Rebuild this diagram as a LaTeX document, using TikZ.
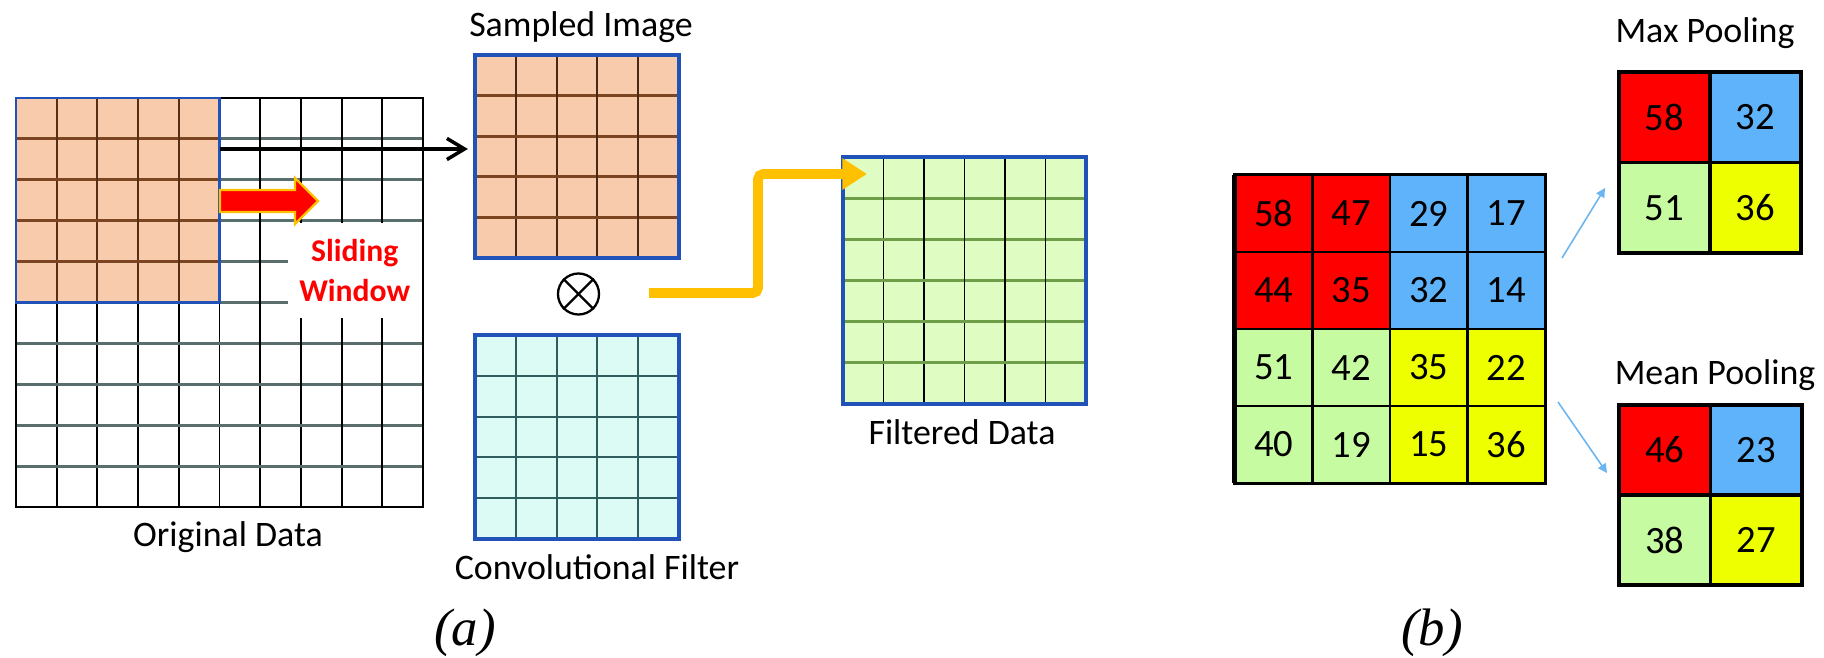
\documentclass[tikz,border=0pt]{standalone}
\usepackage{fontspec}
\setmainfont{Carlito}
\newfontfamily\capfont{Liberation Serif}
\usetikzlibrary{arrows.meta,calc}

\definecolor{winfill}{HTML}{F8CBAD}
\definecolor{winline}{HTML}{7A4520}
\definecolor{edgeblue}{HTML}{2152B8}
\definecolor{filtfill}{HTML}{DDFBF5}
\definecolor{filtline}{HTML}{2F5C5C}
\definecolor{outfill}{HTML}{DFFCC2}
\definecolor{outgreen}{HTML}{6E9E48}
\definecolor{gridgray}{HTML}{5A6E6E}
\definecolor{arrowgold}{HTML}{FFC000}
\definecolor{poolred}{HTML}{FF0000}
\definecolor{poolblue}{HTML}{5FB3FA}
\definecolor{poolgreen}{HTML}{C6FBA2}
\definecolor{poolyellow}{HTML}{EEFF00}
\definecolor{linkblue}{HTML}{6BB5F0}

\begin{document}
\begin{tikzpicture}[x=0.01cm,y=-0.01cm,
  lbl/.style={font=\fontsize{10.2}{12}\selectfont, anchor=base, inner sep=0pt},
  num/.style={font=\fontsize{11}{13}\selectfont, inner sep=0pt},
  sub/.style={font=\fontsize{15}{18}\selectfont\capfont\itshape, anchor=base, inner sep=0pt},
  box/.style={draw=none, inner sep=0pt, outer sep=0pt},
  frame/.style={edgeblue, line width=1pt},
  link/.style={linkblue, line width=0.45pt, -{Triangle[length=2.6pt,width=2.6pt]}},
]
\useasboundingbox (0,0) rectangle (1824,658);

% ---------- (a) original data with sliding window ----------
\node[box, minimum width=4.07cm, minimum height=4.09cm] (orig) at (219.5,302.5) {};
\node[box, fill=winfill, minimum width=2.035cm, minimum height=2.045cm] (win) at (117.75,200.25) {};
\foreach \k in {1,...,9} {
  \draw[gridgray, line width=0.8pt] (16,{98+40.9*\k}) -- (423,{98+40.9*\k});
  \draw[black, line width=0.55pt] ({16+40.7*\k},98) -- ({16+40.7*\k},507);
}
\foreach \k in {1,...,4} {
  \draw[winline, line width=0.8pt] (16,{98+40.9*\k}) -- (219.5,{98+40.9*\k});
  \draw[winline!70!black, line width=0.55pt] ({16+40.7*\k},98) -- ({16+40.7*\k},302.5);
}
\node[box, fill=white, minimum width=1.335cm, minimum height=0.95cm,
      align=center, text=red, font=\fontsize{9}{11.1}\selectfont\bfseries]
  (slide) at (354.75,270.5) {Sliding\\Window};
\draw[black, line width=0.7pt] (orig.north west) rectangle (orig.south east);
\draw[frame, line width=0.8pt] (win.north west) rectangle (win.south east);

% block arrow showing the window movement
\draw[fill=red, draw=arrowgold, line width=0.7pt, line join=miter]
  (220,190) -- (295,190) -- (295,178) -- (318,201) -- (295,224) -- (295,212) -- (220,212) -- cycle;

\node[lbl] (origlbl) at (228,547) {Original Data};

% ---------- sampled image ----------
\node[box, fill=winfill, minimum width=2.04cm, minimum height=2.03cm] (samp) at (577,156.5) {};
\foreach \k in {1,...,4} {
  \draw[winline, line width=0.75pt] (475,{55+40.6*\k}) -- (679,{55+40.6*\k});
  \draw[winline!60!black, line width=0.6pt] ({475+40.8*\k},55) -- ({475+40.8*\k},258);
}
\draw[frame] (samp.north west) rectangle (samp.south east);
\node[lbl] (samplbl) at (581,37) {Sampled Image};

\draw[line width=1pt, -{Straight Barb[length=5pt,width=6pt]}, shorten >=2pt]
  (win.east |- 0,149) -- (samp.west |- 0,149);

% ---------- convolution operator ----------
\node[draw, circle, line width=0.65pt, minimum size=0.41cm, inner sep=0pt] (mult) at (578.5,294) {};
\draw[line width=0.65pt] (mult.north west) -- (mult.south east);
\draw[line width=0.65pt] (mult.north east) -- (mult.south west);

% ---------- convolutional filter ----------
\node[box, fill=filtfill, minimum width=2.04cm, minimum height=2.04cm] (conv) at (577,437) {};
\foreach \k in {1,...,4} {
  \draw[filtline, line width=0.6pt] (475,{335+40.8*\k}) -- (679,{335+40.8*\k});
  \draw[filtline, line width=0.6pt] ({475+40.8*\k},335) -- ({475+40.8*\k},539);
}
\draw[frame] (conv.north west) rectangle (conv.south east);
\node[lbl] (convlbl) at (597,580) {Convolutional Filter};

% ---------- filtered data ----------
\node[box, fill=outfill, minimum width=2.43cm, minimum height=2.47cm] (filt) at (964.5,280.5) {};
\foreach \k in {1,...,5} {
  \draw[outgreen, line width=0.85pt] (843,{157+41.17*\k}) -- (1086,{157+41.17*\k});
  \draw[black, line width=0.45pt] ({843+40.5*\k},157) -- ({843+40.5*\k},404);
}
\draw[frame] (filt.north west) rectangle (filt.south east);
\node[lbl] (filtlbl) at (962,445) {Filtered Data};

\coordinate (ystart) at (649,293);
\coordinate (yend) at (867,174);
\draw[arrowgold, line width=2.8pt, rounded corners=1.5pt, -{Triangle[length=7pt,width=8.5pt]}]
  (ystart) -| (758,174) -- (yend);

\node[sub] (capa) at (465,645) {(a)};

% ---------- (b) pooling ----------
\node[box, minimum width=3.10cm, minimum height=3.08cm] (pool) at (1390,329) {};
\fill[poolred]    (1235,175) rectangle (1390,329);
\fill[poolblue]   (1390,175) rectangle (1545,329);
\fill[poolgreen]  (1235,329) rectangle (1390,483);
\fill[poolyellow] (1390,329) rectangle (1545,483);
\foreach \k in {1,...,3} {
  \draw[black, line width=0.7pt] (1235,{175+77*\k}) -- (1545,{175+77*\k});
  \draw[black, line width=0.7pt] ({1235+77.5*\k},175) -- ({1235+77.5*\k},483);
}
\draw[black, line width=0.9pt] (pool.north west) rectangle (pool.south east);
\draw[black, line width=1.4pt] (pool.north west) -- (pool.south west);
\foreach \v [count=\i from 0] in {58,47,29,17,44,35,32,14,51,42,35,22,40,19,15,36} {
  \pgfmathtruncatemacro\c{mod(\i,4)}
  \pgfmathtruncatemacro\r{\i/4}
  \node[num] (p\i) at ({1235+77.5*(\c+0.5)},{175+77*(\r+0.5)}) {\v};
}

% max pooling result
\node[box, minimum width=1.82cm, minimum height=1.81cm] (maxp) at (1710,162.5) {};
\fill[poolred]    (1619,72)    rectangle (1710,162.5);
\fill[poolblue]   (1710,72)    rectangle (1801,162.5);
\fill[poolgreen]  (1619,162.5) rectangle (1710,253);
\fill[poolyellow] (1710,162.5) rectangle (1801,253);
\draw[black, line width=0.9pt] (1710,72) -- (1710,253) (1619,162.5) -- (1801,162.5);
\draw[black, line width=0.9pt] (maxp.north west) rectangle (maxp.south east);
\node[num] (m1) at (1664.5,117.25) {58};
\node[num] (m2) at (1755.5,117.25) {32};
\node[num] (m3) at (1664.5,207.75) {51};
\node[num] (m4) at (1755.5,207.75) {36};
\node[lbl] (maxlbl) at (1705,43) {Max Pooling};

% mean pooling result
\node[box, minimum width=1.83cm, minimum height=1.80cm] (meanp) at (1710.5,495) {};
\fill[poolred]    (1619,405)   rectangle (1710.5,495);
\fill[poolblue]   (1710.5,405) rectangle (1802,495);
\fill[poolgreen]  (1619,495)   rectangle (1710.5,585);
\fill[poolyellow] (1710.5,495) rectangle (1802,585);
\draw[black, line width=0.9pt] (1710.5,405) -- (1710.5,585) (1619,495) -- (1802,495);
\draw[black, line width=0.9pt] (meanp.north west) rectangle (meanp.south east);
\node[num] (a1) at (1664.75,450) {46};
\node[num] (a2) at (1756.25,450) {23};
\node[num] (a3) at (1664.75,540) {38};
\node[num] (a4) at (1756.25,540) {27};
\node[lbl] (meanlbl) at (1715,385) {Mean Pooling};

\coordinate (mxs) at (1562,258);
\coordinate (mxe) at (1605,188);
\coordinate (mns) at (1558,402);
\coordinate (mne) at (1607,473);
\draw[link] (mxs) -- (mxe);
\draw[link] (mns) -- (mne);

\node[sub] (capb) at (1432,645) {(b)};
\end{tikzpicture}
\end{document}
